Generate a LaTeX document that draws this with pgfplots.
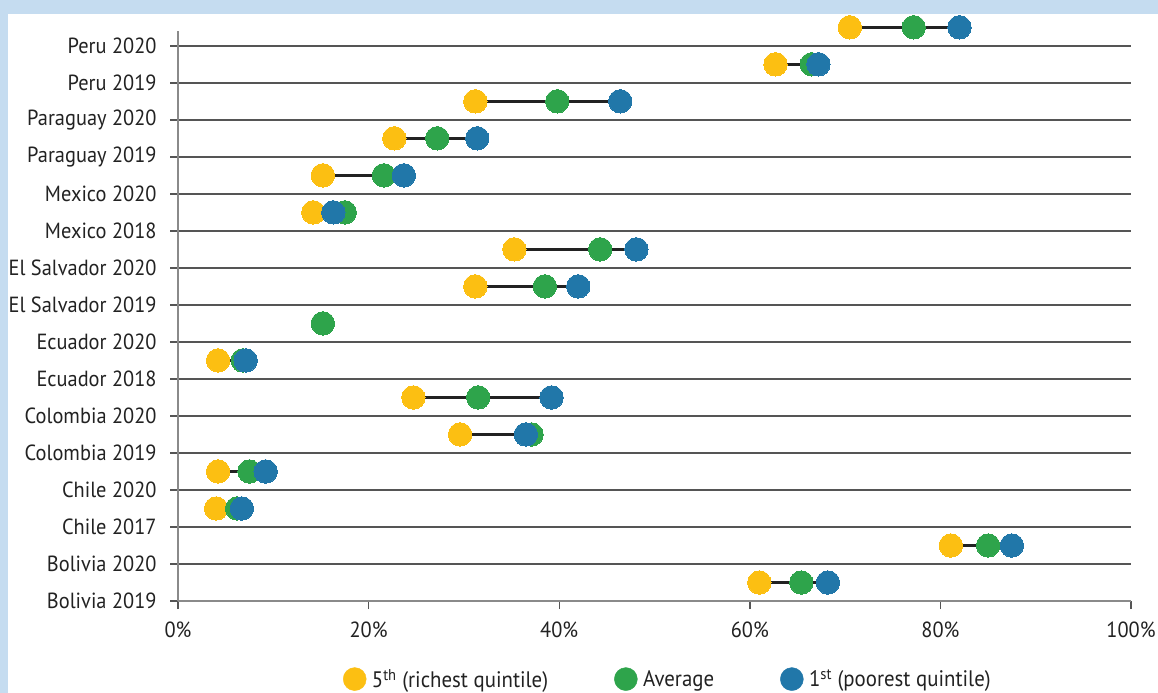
\documentclass[border=0pt]{standalone}
\usepackage{pgfplots}
\pgfplotsset{compat=1.18}
\usepackage{pgfplotstable}
\usepackage{fontspec}
\setmainfont[FakeStretch=0.93]{PT Sans}
\definecolor{bgblue}{HTML}{C5DCF0}
\definecolor{cyel}{HTML}{FCBF12}
\definecolor{cgrn}{HTML}{2EA44B}
\definecolor{cblu}{HTML}{2177A9}
\definecolor{gridc}{HTML}{555555}
\definecolor{axc}{HTML}{8A8A8A}
\definecolor{txt}{HTML}{222222}

% y = category index + 0.5 (points sit between the grid lines, as in the original)
\pgfplotstableread{
y    rich  avg   poor
15.5 70.5  77.2  82.0
14.5 62.7  66.5  67.2
13.5 31.2  39.8  46.4
12.5 22.7  27.2  31.4
11.5 15.2  21.6  23.7
10.5 14.2  17.5  16.3
9.5  35.3  44.3  48.1
8.5  31.2  38.5  42.0
7.5  nan   15.2  nan
6.5  4.2   6.8   7.1
5.5  24.7  31.5  39.2
4.5  29.6  37.1  36.5
3.5  4.2   7.5   9.2
2.5  4.0   6.2   6.7
1.5  81.1  85.0  87.5
0.5  61.0  65.4  68.2
}\datatable

\begin{document}
\begin{tikzpicture}
\useasboundingbox (0,0) rectangle (1158bp,-693bp);
\fill[bgblue] (0,0) rectangle (1158bp,-693bp);
\fill[white] (8bp,-14bp) rectangle (1158bp,-693bp);
\begin{axis}[
  at={(178bp,-601bp)}, anchor=south west,
  scale only axis, width=953bp, height=570bp,
  xmin=0, xmax=100, ymin=0, ymax=15.4,
  axis x line*=bottom, axis y line*=left,
  clip=false,
  xtick={0,20,...,100},
  xticklabel={\pgfmathprintnumber{\tick}\%},
  ytick={0,...,15},
  yticklabels={Bolivia 2019, Bolivia 2020, Chile 2017, Chile 2020, Colombia 2019, Colombia 2020, Ecuador 2018, Ecuador 2020, El Salvador 2019, El Salvador 2020, Mexico 2018, Mexico 2020, Paraguay 2019, Paraguay 2020, Peru 2019, Peru 2020},
  ymajorgrids,
  major grid style={gridc, line width=1.4bp},
  tick align=outside, major tick length=8bp,
  tick style={gridc, line width=1.4bp},
  axis line style={axc, line width=1.8bp},
  ticklabel style={font=\fontsize{22}{26}\selectfont, text=txt},
  yticklabel style={xshift=-10bp},
  xticklabel style={yshift=-9bp},
  /pgf/number format/assume math mode=true,
  legend style={at={(0.514,-0.137)}, anchor=center, draw=none, fill=none,
    legend columns=3, font=\fontsize{22.5}{26}\selectfont, text=txt,
    /tikz/every even column/.append style={column sep=64bp}},
  legend image code/.code={\fill[#1] (0bp,0bp) circle (11.5bp); \path (15bp,0bp);},
]
\addplot[txt, line width=2.6bp, unbounded coords=jump, forget plot] coordinates {
(70.5,15.5) (77.2,15.5) (82.0,15.5) (nan,nan)
(62.7,14.5) (66.5,14.5) (67.2,14.5) (nan,nan)
(31.2,13.5) (39.8,13.5) (46.4,13.5) (nan,nan)
(22.7,12.5) (27.2,12.5) (31.4,12.5) (nan,nan)
(15.2,11.5) (21.6,11.5) (23.7,11.5) (nan,nan)
(14.2,10.5) (17.5,10.5) (16.3,10.5) (nan,nan)
(35.3,9.5) (44.3,9.5) (48.1,9.5) (nan,nan)
(31.2,8.5) (38.5,8.5) (42.0,8.5) (nan,nan)
(4.2,6.5) (6.8,6.5) (7.1,6.5) (nan,nan)
(24.7,5.5) (31.5,5.5) (39.2,5.5) (nan,nan)
(29.6,4.5) (37.1,4.5) (36.5,4.5) (nan,nan)
(4.2,3.5) (7.5,3.5) (9.2,3.5) (nan,nan)
(4.0,2.5) (6.2,2.5) (6.7,2.5) (nan,nan)
(81.1,1.5) (85.0,1.5) (87.5,1.5) (nan,nan)
(61.0,0.5) (65.4,0.5) (68.2,0.5)
};
\addplot[only marks, mark=*, mark size=11.7bp, cyel, mark options={draw=cyel, fill=cyel, line width=0pt}] table[x=rich, y=y] {\datatable};
\addlegendentry{5\textsuperscript{th} (richest quintile)}
\addplot[only marks, mark=*, mark size=11.7bp, cgrn, mark options={draw=cgrn, fill=cgrn, line width=0pt}] table[x=avg, y=y] {\datatable};
\addlegendentry{Average}
\addplot[only marks, mark=*, mark size=11.7bp, cblu, mark options={draw=cblu, fill=cblu, line width=0pt}] table[x=poor, y=y] {\datatable};
\addlegendentry{1\textsuperscript{st} (poorest quintile)}
\end{axis}
\end{tikzpicture}
\end{document}
